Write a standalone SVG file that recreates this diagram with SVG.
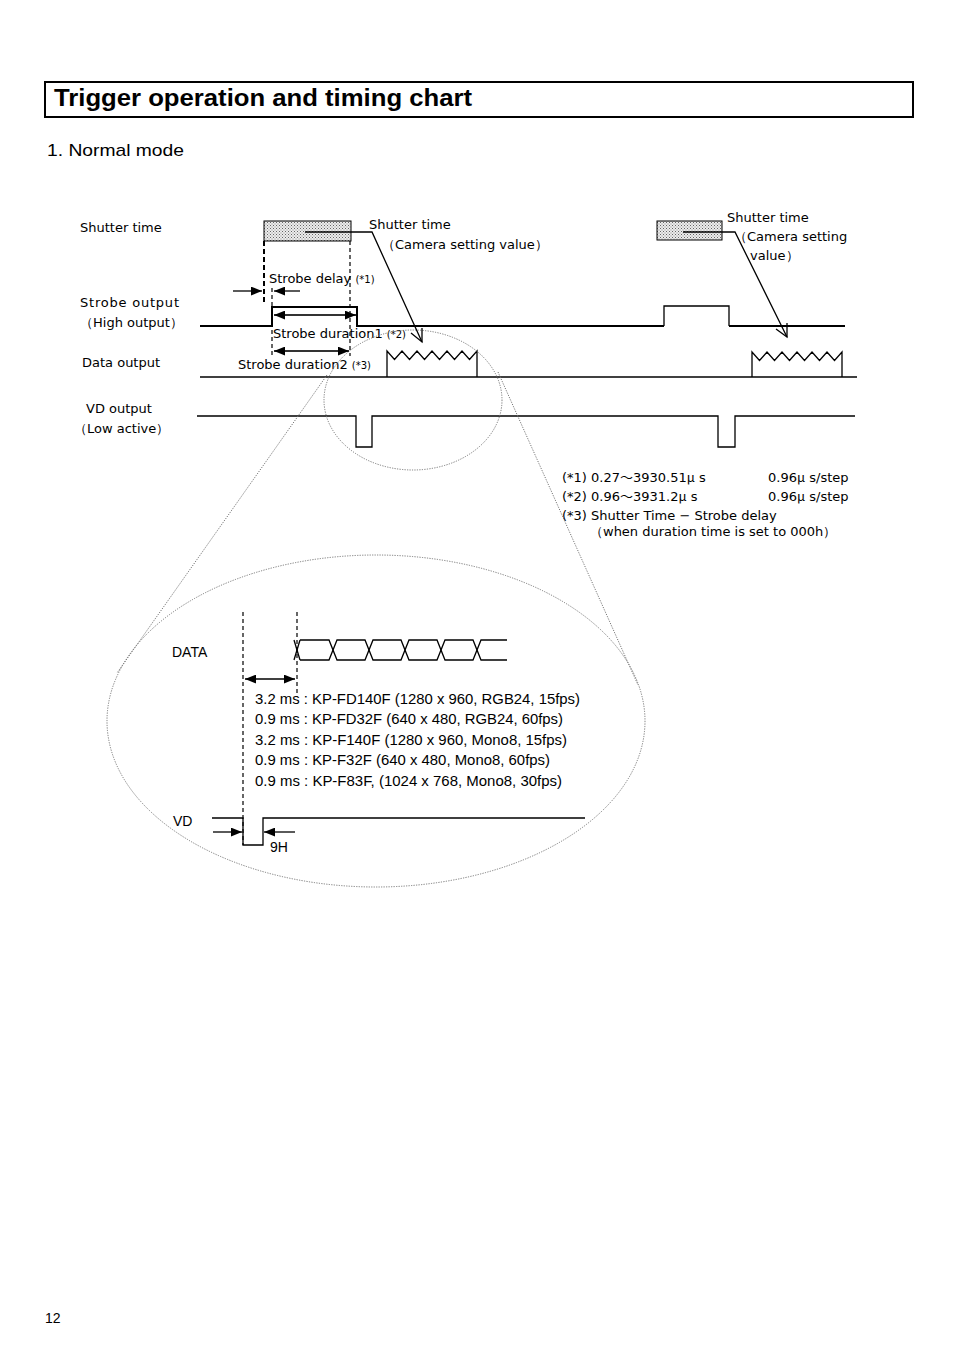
<svg xmlns="http://www.w3.org/2000/svg" width="954" height="1351" viewBox="0 0 954 1351">
<defs>
<pattern id="dots" width="3" height="3" patternUnits="userSpaceOnUse">
<rect width="3" height="3" fill="#ececec"/>
<rect x="0" y="0" width="1" height="1" fill="#666"/>
<rect x="1.5" y="1.5" width="1" height="1" fill="#888"/>
</pattern>
<marker id="ah" viewBox="0 0 10 8" refX="10" refY="4" markerWidth="11" markerHeight="9" markerUnits="userSpaceOnUse" orient="auto-start-reverse">
<path d="M0,0 L10,4 L0,8 Z" fill="#000"/>
</marker>
</defs>
<style>
.t{font-family:"DejaVu Sans","Liberation Sans",sans-serif;font-size:13px;fill:#000}
.s{font-family:"DejaVu Sans","Liberation Sans",sans-serif;font-size:10px;fill:#000}
.a{font-family:"Liberation Sans",Arial,sans-serif;font-size:14px;fill:#000}
.j{font-family:"Noto Sans CJK JP",sans-serif}
.ln{fill:none;stroke:#000;stroke-width:1.3}
.thick{fill:none;stroke:#000;stroke-width:2}
.dash{fill:none;stroke:#000;stroke-width:1.2;stroke-dasharray:4,3}
.dashb{fill:none;stroke:#000;stroke-width:2;stroke-dasharray:5,3}
.dim{fill:none;stroke:#333;stroke-width:2}
.dot{fill:none;stroke:#777;stroke-width:1;stroke-dasharray:1.2,1.3}
</style>
<rect width="954" height="1351" fill="#fff"/>

<g id="title">
<rect x="45" y="82" width="868" height="35" fill="none" stroke="#000" stroke-width="2"/>
<text x="54" y="106" font-family="Liberation Sans,Arial,sans-serif" font-size="24" font-weight="bold" textLength="418" lengthAdjust="spacingAndGlyphs">Trigger operation and timing chart</text>
</g>
<text x="47" y="156" font-family="Liberation Sans,Arial,sans-serif" font-size="17" textLength="137" lengthAdjust="spacingAndGlyphs">1. Normal mode</text>

<g id="labels">
<text class="t" x="80" y="232">Shutter time</text>
<text class="t" x="80" y="307" textLength="99">Strobe  output</text>
<text class="t" x="80" y="327">（High output）</text>
<text class="t" x="82" y="367">Data output</text>
<text class="t" x="86" y="413">VD output</text>
<text class="t" x="74" y="433">（Low active）</text>
</g>

<g id="shutter1">
<rect x="264" y="221" width="87" height="20" fill="url(#dots)" stroke="#000" stroke-width="1"/>
<text class="t" x="369" y="229">Shutter time</text>
<text class="t" x="382" y="249">（Camera setting value）</text>
</g>
<g id="shutter2">
<rect x="657" y="221" width="65" height="19" fill="url(#dots)" stroke="#000" stroke-width="1"/>
<text class="t" x="727" y="222">Shutter time</text>
<text class="t" x="734" y="241">（Camera setting</text>
<text class="t" x="750" y="260">value）</text>
</g>

<g id="strobe">
<polyline class="thick" points="200,326 272,326 272,307 357,307 357,326 664,326"/>
<polyline class="ln" points="664,326 664,306 729,306 729,326"/>
<polyline class="thick" points="729,326 845,326"/>
</g>

<g id="data">
<line class="ln" x1="200" y1="377" x2="857" y2="377"/>
<polyline class="ln" points="387,377 387,351 394.5,359.5 402,351 409.5,359.5 417,351 424.5,359.5 432,351 439.5,359.5 447,351 454.5,359.5 462,351 469.5,359.5 477,351 477,377"/>
<polyline class="ln" points="752,377 752,352 759.5,360.5 767,352 774.5,360.5 782,352 789.5,360.5 797,352 804.5,360.5 812,352 819.5,360.5 827,352 834.5,360.5 842,352 842,377"/>
</g>

<g id="vd">
<polyline class="ln" points="197,416 356,416 356,447 372,447 372,416 718,416 718,447 735,447 735,416 855,416"/>
</g>

<g id="annotations">
<text class="t" x="269" y="283">Strobe delay <tspan class="s">(*1)</tspan></text>
<text class="t" x="273" y="338">Strobe duration1 <tspan class="s">(*2)</tspan></text>
<text class="t" x="238" y="369">Strobe duration2 <tspan class="s">(*3)</tspan></text>
</g>

<g id="notes">
<text class="t" x="562" y="482">(*1) 0.27<tspan class="j">～</tspan>3930.51<tspan class="j">μ</tspan> s</text>
<text class="t" x="768" y="482">0.96<tspan class="j">μ</tspan> s/step</text>
<text class="t" x="562" y="501">(*2) 0.96<tspan class="j">～</tspan>3931.2<tspan class="j">μ</tspan> s</text>
<text class="t" x="768" y="501">0.96<tspan class="j">μ</tspan> s/step</text>
<text class="t" x="562" y="520">(*3) Shutter Time − Strobe delay</text>
<text class="t" x="590" y="536">（when duration time is set to 000h）</text>
</g>

<g id="zoom">
<ellipse class="dot" cx="413" cy="400" rx="89" ry="70"/>
<ellipse class="dot" cx="376" cy="721" rx="269" ry="166"/>
<line class="dot" x1="327" y1="375" x2="117" y2="673"/>
<line class="dot" x1="498" y1="372" x2="638" y2="685"/>
</g>

<g id="detail">
<text class="a" x="172" y="657">DATA</text>
<polyline class="ln" points="300,640 329,640 337,660 365,660 373,640 401,640 409,660 437,660 445,640 473,640 481,660 507,660"/>
<polyline class="ln" points="300,660 329,660 337,640 365,640 373,660 401,660 409,640 437,640 445,660 473,660 481,640 507,640"/>
<line class="ln" x1="294" y1="640" x2="300" y2="660"/>
<line class="ln" x1="300" y1="640" x2="294" y2="660"/>
<text class="a" x="255" y="704" textLength="325" lengthAdjust="spacingAndGlyphs">3.2 ms : KP-FD140F (1280 x 960, RGB24, 15fps)</text>
<text class="a" x="255" y="724" textLength="308" lengthAdjust="spacingAndGlyphs">0.9 ms : KP-FD32F (640 x 480, RGB24, 60fps)</text>
<text class="a" x="255" y="745" textLength="312" lengthAdjust="spacingAndGlyphs">3.2 ms : KP-F140F (1280 x 960, Mono8, 15fps)</text>
<text class="a" x="255" y="765" textLength="295" lengthAdjust="spacingAndGlyphs">0.9 ms : KP-F32F (640 x 480, Mono8, 60fps)</text>
<text class="a" x="255" y="786" textLength="307" lengthAdjust="spacingAndGlyphs">0.9 ms : KP-F83F, (1024 x 768, Mono8, 30fps)</text>
<text class="a" x="173" y="826">VD</text>
<polyline class="ln" points="212,818 243,818 243,845 263,845 263,818 585,818"/>
<text class="a" x="270" y="852">9H</text>
</g>

<g id="connectors">
<line class="dashb" x1="264" y1="241" x2="264" y2="303"/>
<line class="dash" x1="272" y1="288" x2="272" y2="358"/>
<line class="dash" x1="350" y1="241" x2="350" y2="356"/>
<line class="ln" x1="233" y1="291" x2="262" y2="291" marker-end="url(#ah)"/>
<line class="ln" x1="300" y1="291" x2="274" y2="291" marker-end="url(#ah)"/>
<line class="dim" x1="274" y1="315" x2="356" y2="315" marker-start="url(#ah)" marker-end="url(#ah)"/>
<line class="dim" x1="274" y1="351" x2="349" y2="351" marker-start="url(#ah)" marker-end="url(#ah)"/>
<polyline class="ln" points="305,232 372,232 422,342"/>
<polyline class="ln" points="411,333 422,342 422,328"/>
<polyline class="ln" points="683,232 735,232 787,337"/>
<polyline class="ln" points="776,329 787,337 787,323"/>
<line class="dash" x1="243" y1="612" x2="243" y2="845"/>
<line class="dash" x1="297" y1="612" x2="297" y2="697"/>
<line class="ln" x1="245" y1="679" x2="295" y2="679" stroke-width="2" marker-start="url(#ah)" marker-end="url(#ah)"/>
<line class="ln" x1="213" y1="832" x2="242" y2="832" marker-end="url(#ah)"/>
<line class="ln" x1="295" y1="832" x2="264" y2="832" marker-end="url(#ah)"/>
</g>

<text class="a" x="45" y="1323">12</text>
</svg>
